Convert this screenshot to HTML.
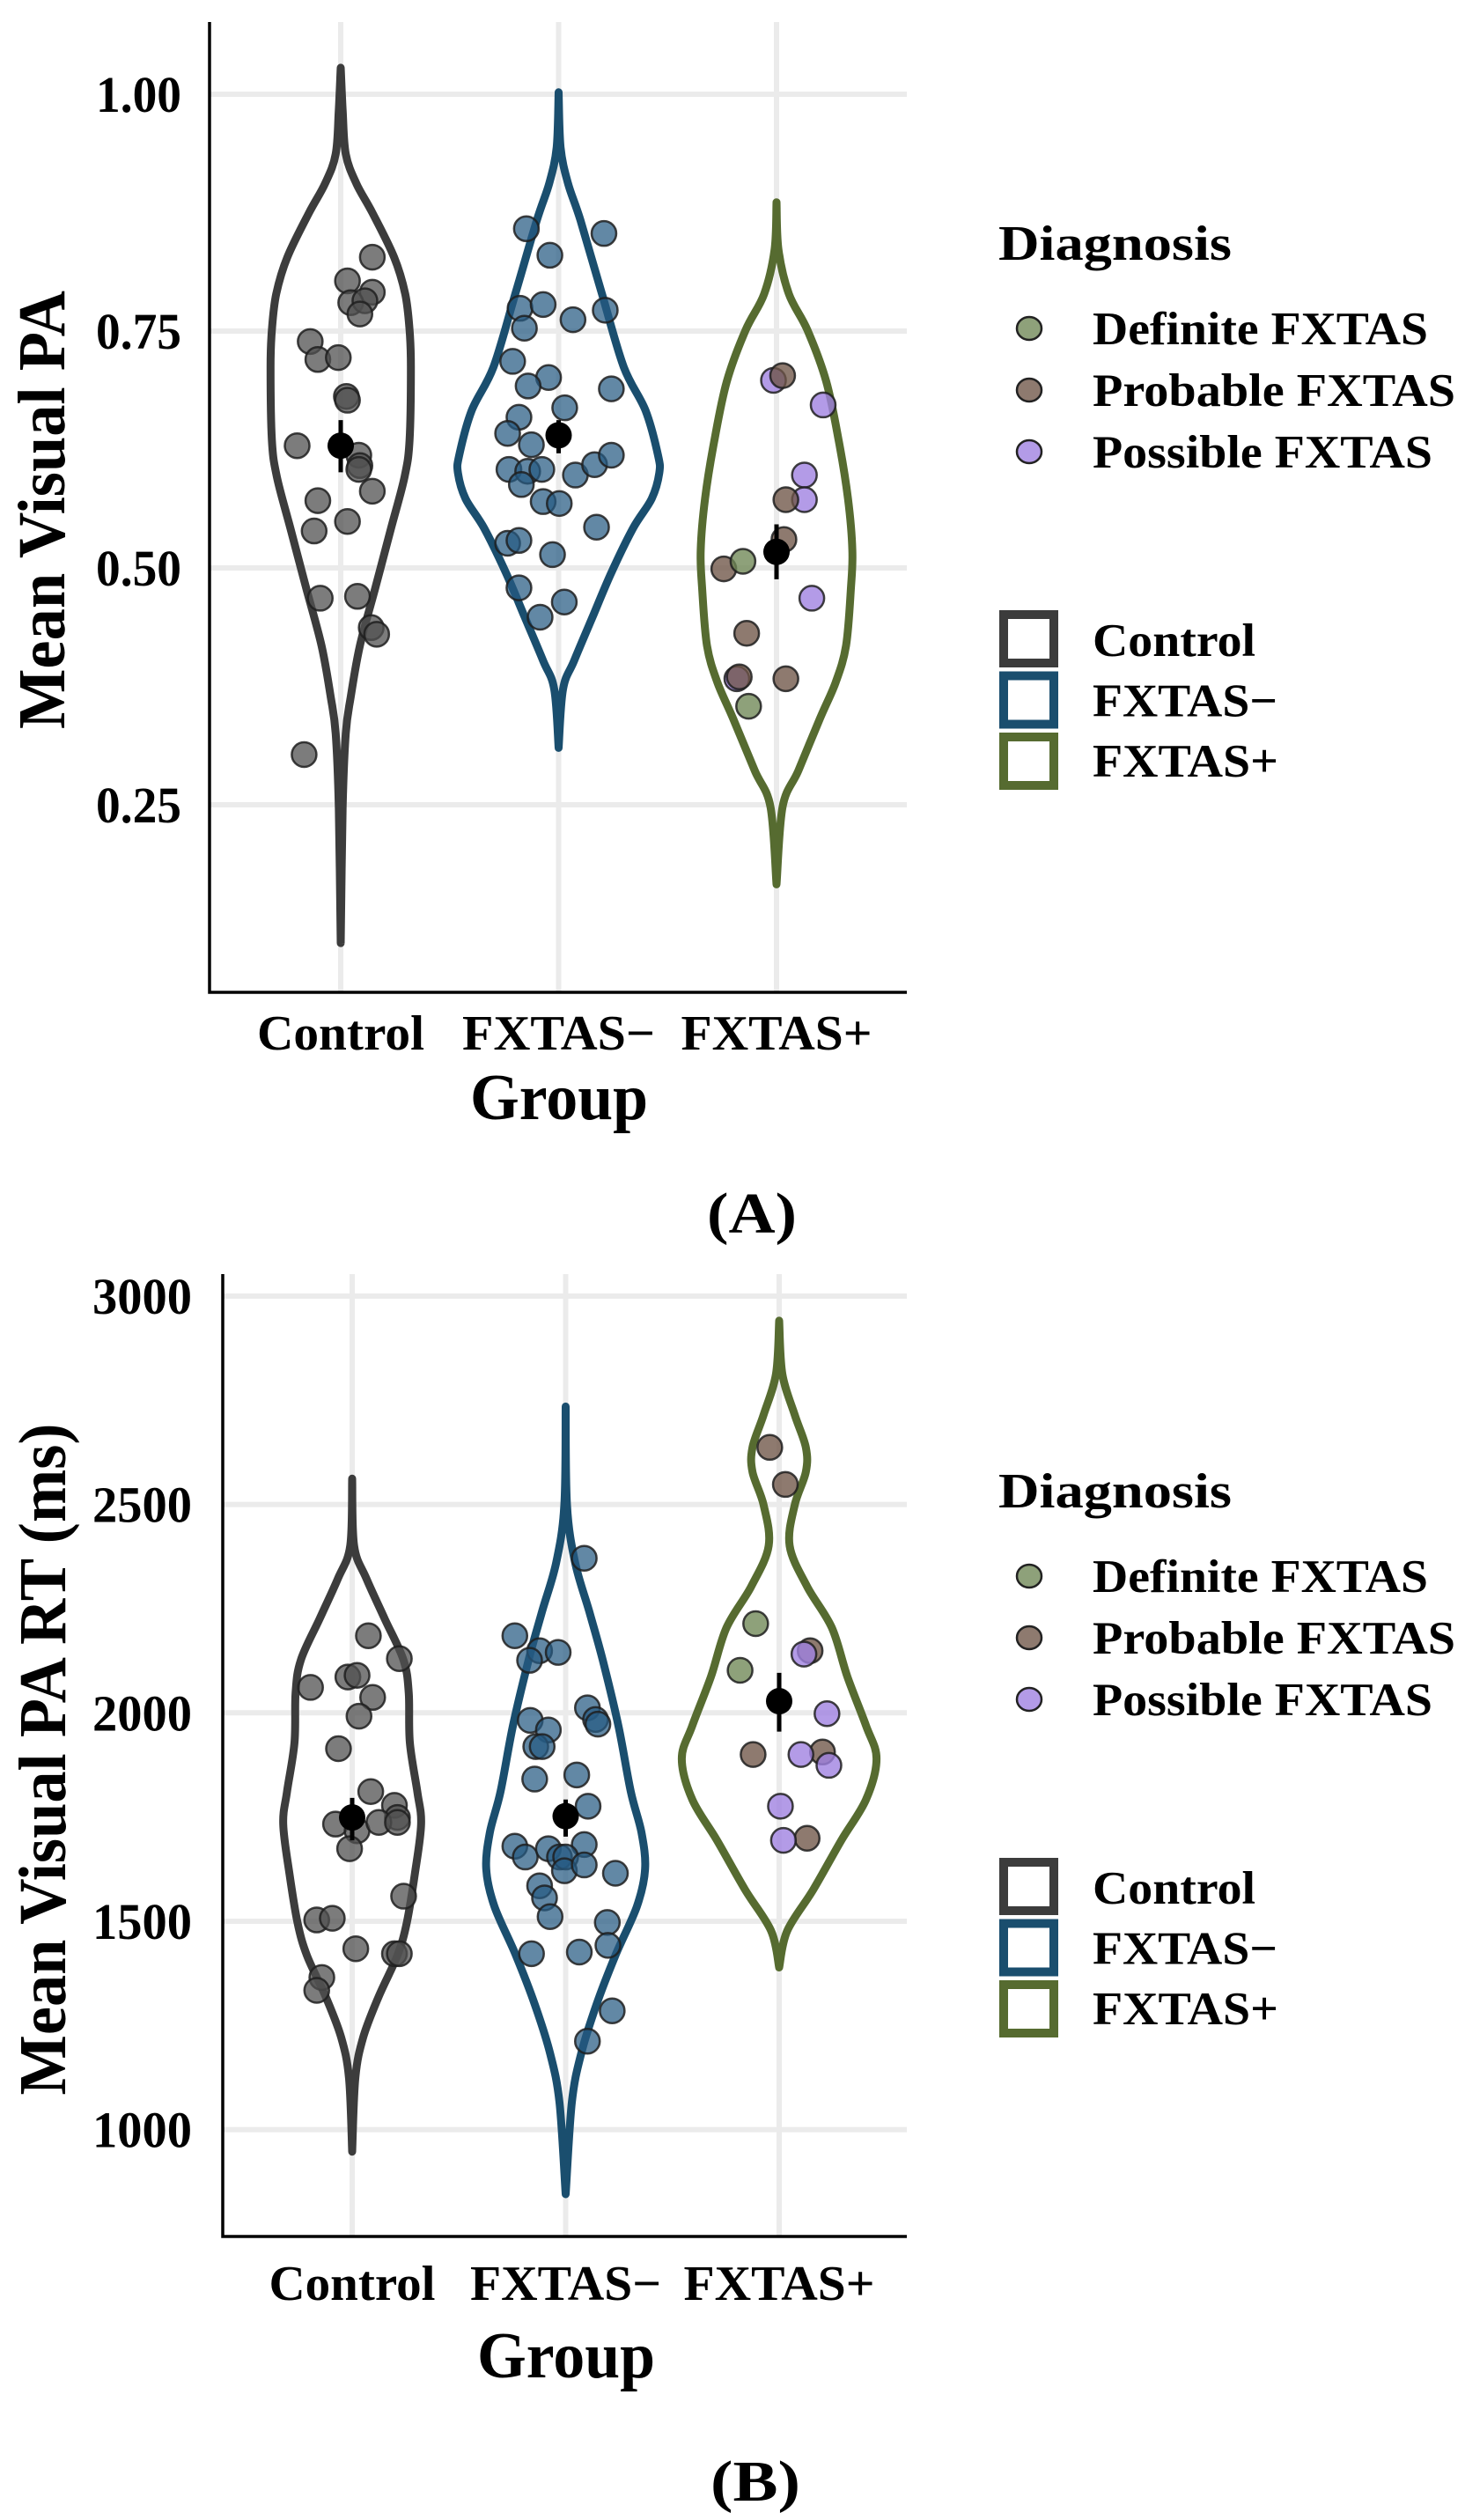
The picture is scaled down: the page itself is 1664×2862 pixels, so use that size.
<!DOCTYPE html>
<html><head><meta charset="utf-8"><title>Violin plots</title>
<style>
html,body{margin:0;padding:0;background:#fff;}
svg text{font-family:"Liberation Serif","DejaVu Serif",serif;font-weight:bold;fill:#000;}
</style></head>
<body>
<svg id="fig" xmlns="http://www.w3.org/2000/svg" width="1664" height="2857" viewBox="0 0 1664 2857">
<rect width="1664" height="2857" fill="#fff"/>
<g id="panelA"></g>
<g id="panelB"></g>
</svg>
<script>
// ---------- shared data ----------
var groups = ["Control", "FXTAS\u2212", "FXTAS+"];
var diagnoses = ["Definite FXTAS", "Probable FXTAS", "Possible FXTAS"];

// ---------- Panel A: Mean Visual PA ----------
var aTicks = [0.25, 0.50, 0.75, 1.00];
var aTickLabels = ["0.25", "0.50", "0.75", "1.00"];
var aCtrlVals = [0.828,0.803,0.791,0.780,0.782,0.768,0.739,0.720,0.722,0.681,0.677,0.629,0.619,0.608,0.604,0.581,0.571,0.539,0.549,0.468,0.470,0.437,0.430,0.303];
var aCtrlJit  = [0.145,0.031,0.145,0.046,0.111,0.088,-0.14,-0.105,-0.011,0.026,0.031,-0.2,0.083,0.088,0.083,0.145,-0.105,-0.122,0.031,-0.094,0.077,0.14,0.165,-0.168];
var aNegVals = [0.858,0.853,0.830,0.774,0.778,0.753,0.762,0.772,0.718,0.701,0.692,0.689,0.669,0.659,0.642,0.630,0.604,0.602,0.604,0.588,0.598,0.609,0.619,0.570,0.568,0.543,0.526,0.529,0.514,0.479,0.464,0.448];
var aNegJit  = [-0.148,0.208,-0.04,-0.177,-0.071,-0.157,0.066,0.214,-0.211,-0.046,-0.14,0.242,0.028,-0.182,-0.234,-0.125,-0.228,-0.142,-0.077,-0.171,0.077,0.165,0.242,-0.071,0.003,0.174,-0.234,-0.182,-0.028,-0.182,0.026,-0.085];
var aPosVals = [0.698,0.672,0.598,0.572,0.468,0.383, 0.703,0.572,0.530,0.499,0.431,0.383,0.385, 0.507,0.354];
var aPosJit  = [-0.014,0.214,0.128,0.128,0.162,-0.182, 0.028,0.043,0.034,-0.242,-0.137,0.043,-0.171, -0.154,-0.128];
var aPosDiag = [2,2,2,2,2,2, 1,1,1,1,1,1,1, 0,0];
var aMeans = [0.629, 0.640, 0.517];
var aLo = [0.601, 0.621, 0.488];
var aHi = [0.656, 0.656, 0.546];
var aViolinCtrlY = [1.028,0.983,0.937,0.906,0.875,0.828,0.789,0.751,0.712,0.635,0.596,0.542,0.480,0.418,0.364,0.325,0.248,0.104];
var aViolinCtrlW = [0,0.009,0.023,0.071,0.145,0.245,0.296,0.316,0.322,0.316,0.293,0.231,0.160,0.088,0.046,0.023,0.009,0];
var aViolinNegY = [1.002,0.944,0.906,0.867,0.789,0.712,0.666,0.619,0.600,0.573,0.542,0.495,0.449,0.402,0.372,0.310];
var aViolinNegW = [0,0.009,0.043,0.1,0.199,0.299,0.399,0.456,0.462,0.427,0.342,0.242,0.157,0.071,0.02,0];
var aViolinPosY = [0.886,0.836,0.789,0.751,0.697,0.635,0.573,0.519,0.480,0.418,0.379,0.341,0.286,0.248,0.166];
var aViolinPosW = [0,0.009,0.057,0.142,0.228,0.285,0.328,0.348,0.342,0.319,0.271,0.199,0.1,0.028,0];

// ---------- Panel B: Mean Visual PA RT ----------
var bTicks = [1000, 1500, 2000, 2500, 3000];
var bTickLabels = ["1000", "1500", "2000", "2500", "3000"];
var bCtrlVals = [2185,2130,2061,2086,2090,2037,1992,1914,1811,1778,1749,1733,1717,1737,1737,1674,1560,1503,1507,1434,1422,1422,1365,1334];
var bCtrlJit  = [0.076,0.221,-0.195,-0.02,0.023,0.096,0.032,-0.064,0.087,0.198,0.212,-0.078,0.023,0.125,0.212,-0.012,0.241,-0.166,-0.093,0.017,0.198,0.221,-0.142,-0.166];
var bNegVals = [2371,2185,2149,2145,2126,2012,1984,1973,1982,1959,1919,1919,1841,1851,1776,1680,1654,1674,1684,1654,1654,1621,1635,1615,1585,1556,1511,1497,1442,1422,1426,1285,1212];
var bNegJit  = [0.087,-0.238,-0.122,-0.035,-0.169,0.102,0.14,0.151,-0.166,-0.081,-0.14,-0.11,-0.145,0.052,0.105,-0.238,-0.189,-0.081,0.087,-0.029,0,-0.006,0.087,0.233,-0.122,-0.099,-0.073,0.195,0.198,-0.16,0.064,0.218,0.102];
var bPosVals = [2637,2548,2149,1900,1906,1699, 2214,2102, 2141,1998,1900,1874,1776,1694];
var bPosJit  = [-0.044,0.029,0.145,-0.122,0.203,0.131, -0.11,-0.183, 0.116,0.224,0.102,0.233,0.006,0.02];
var bPosDiag = [1,1,1,1,1,1, 0,0, 2,2,2,2,2,2];
var bMeans = [1749, 1752, 2028];
var bLo = [1694, 1703, 1955];
var bHi = [1796, 1792, 2096];
var bViolinCtrlY = [2562,2401,2322,2224,2126,2047,1929,1811,1733,1615,1497,1418,1320,1222,1124,947];
var bViolinCtrlW = [0,0.009,0.067,0.154,0.241,0.265,0.27,0.305,0.323,0.294,0.256,0.212,0.125,0.052,0.015,0];
var bViolinNegY = [2735,2499,2361,2244,2126,1969,1811,1713,1625,1536,1418,1301,1183,1065,845];
var bViolinNegW = [0,0.006,0.044,0.11,0.174,0.247,0.305,0.355,0.372,0.334,0.233,0.145,0.073,0.029,0];
var bViolinPosY = [2941,2813,2715,2637,2578,2499,2401,2303,2204,2086,1969,1890,1792,1694,1576,1477,1389];
var bViolinPosW = [0,0.015,0.073,0.125,0.125,0.073,0.049,0.131,0.247,0.32,0.407,0.456,0.407,0.291,0.16,0.038,0];

// ---------- drawing ----------
var NS = "http://www.w3.org/2000/svg";
var groupStroke = ["#3c3c3c", "#1a4e6e", "#566b30"];
var groupFill = ["rgba(80,80,80,0.75)", "rgba(38,90,130,0.72)"];
var diagFill = ["rgba(110,135,85,0.78)", "rgba(110,85,70,0.78)", "rgba(160,130,225,0.8)"];

function mk(parent, tag, attrs) {
  var el = document.createElementNS(NS, tag);
  for (var k in attrs) el.setAttribute(k, attrs[k]);
  parent.appendChild(el);
  return el;
}
function txt(parent, s, attrs) { var t = mk(parent, "text", attrs); t.textContent = s; return t; }

function smoothPath(pts) {
  var d = "M" + pts[0][0].toFixed(1) + "," + pts[0][1].toFixed(1);
  for (var i = 0; i < pts.length - 1; i++) {
    var p0 = pts[Math.max(0, i - 1)], p1 = pts[i], p2 = pts[i + 1], p3 = pts[Math.min(pts.length - 1, i + 2)];
    var c1x = p1[0] + (p2[0] - p0[0]) / 6, c1y = p1[1] + (p2[1] - p0[1]) / 6;
    var c2x = p2[0] - (p3[0] - p1[0]) / 6, c2y = p2[1] - (p3[1] - p1[1]) / 6;
    d += " C" + c1x.toFixed(1) + "," + c1y.toFixed(1) + " " + c2x.toFixed(1) + "," + c2y.toFixed(1) + " " + p2[0].toFixed(1) + "," + p2[1].toFixed(1);
  }
  return d;
}

function drawPanel(g, cfg) {
  var xs = function (i) { return cfg.x0 + i * cfg.unit; };
  var ys = cfg.ys;
  for (var i = 0; i < cfg.ticks.length; i++) {
    var gl = mk(g, "line", {x1: cfg.axisX, x2: cfg.right, y1: ys(cfg.ticks[i]), y2: ys(cfg.ticks[i]), stroke: "#ebebeb", "stroke-width": 6});
    
    
    var tl = txt(g, cfg.tickLabels[i], {x: cfg.tickX, y: ys(cfg.ticks[i]) + 20, "text-anchor": "end", "font-size": 58, textLength: cfg.tickW, lengthAdjust: "spacingAndGlyphs"});
    
    
  }
  for (var j = 0; j < 3; j++) {
    var vg = mk(g, "line", {x1: xs(j), x2: xs(j), y1: cfg.top, y2: cfg.bottom, stroke: "#ebebeb", "stroke-width": 6});
    
    
  }
  var ax = mk(g, "path", {d: "M" + cfg.axisX + "," + cfg.top + " V" + cfg.bottom + " H" + cfg.right, fill: "none", stroke: "#000", "stroke-width": 3.5});
  
  
  for (var k = 0; k < 3; k++) {
    var vy = cfg.violinY[k], vw = cfg.violinW[k], right = [], left = [];
    for (var m = 0; m < vy.length; m++) right.push([xs(k) + vw[m] * cfg.unit, ys(vy[m])]);
    for (var m2 = vy.length - 1; m2 >= 0; m2--) left.push([xs(k) - vw[m2] * cfg.unit, ys(vy[m2])]);
    var d = smoothPath(right) + " " + smoothPath(left).replace(/^M/, "L") + " Z";
    var vp = mk(g, "path", {d: d, fill: "none", stroke: groupStroke[k], "stroke-width": 9, "stroke-linejoin": "round"});
    
    
  }
  function pts(vals, jit, k, fills, nm) {
    for (var p = 0; p < vals.length; p++) {
      var c = mk(g, "circle", {cx: xs(k) + jit[p] * cfg.unit, cy: ys(vals[p]), r: 14, fill: fills[p], stroke: "rgba(30,30,30,0.85)", "stroke-width": 2.5});
      
      
    }
  }
  pts(cfg.ctrlVals, cfg.ctrlJit, 0, cfg.ctrlVals.map(function () { return groupFill[0]; }), 'point-control');
  pts(cfg.negVals, cfg.negJit, 1, cfg.negVals.map(function () { return groupFill[1]; }), 'point-fxtas-neg');
  pts(cfg.posVals, cfg.posJit, 2, cfg.posDiag.map(function (d) { return diagFill[d]; }), 'point-fxtas-pos');
  for (var q = 0; q < 3; q++) {
    var eb = mk(g, "line", {x1: xs(q), x2: xs(q), y1: ys(cfg.lo[q]), y2: ys(cfg.hi[q]), stroke: "#000", "stroke-width": 5});
    
    
    var mc = mk(g, "circle", {cx: xs(q), cy: ys(cfg.means[q]), r: 15, fill: "#000"});
    
    
  }
  var xw = cfg.xLabelW;
  for (var r = 0; r < 3; r++) {
    var xl = txt(g, groups[r], {x: xs(r), y: cfg.xLabelY, "text-anchor": "middle", "font-size": 56, textLength: xw[r], lengthAdjust: "spacingAndGlyphs"});
    
    
  }
  var gt = txt(g, "Group", {x: cfg.groupX, y: cfg.groupY, "text-anchor": "middle", "font-size": 74, textLength: 202, lengthAdjust: "spacingAndGlyphs"});
  
  
  var yt = txt(g, cfg.yTitle, {x: 0, y: 0, "text-anchor": "middle", "font-size": 76, textLength: cfg.yTitleLen, lengthAdjust: "spacingAndGlyphs", transform: "translate(" + cfg.yTitleX + "," + cfg.yTitleY + ") rotate(-90)"});
  
  
  var pl = txt(g, cfg.panelLabel, {x: cfg.panelX, y: cfg.panelY, "text-anchor": "middle", "font-size": 66, textLength: 102, lengthAdjust: "spacingAndGlyphs"});
  
  
  var L = mk(g, "g", {});
  
  
  var oy = cfg.legendOffset;
  var lt = txt(L, "Diagnosis", {x: 1134, y: 295 + oy, "font-size": 56, textLength: 265, lengthAdjust: "spacingAndGlyphs"});
  
  
  var dw = [381, 412, 386];
  for (var s = 0; s < 3; s++) {
    var ld = mk(L, "ellipse", {cx: 1169, cy: 373 + 70 * s + oy, rx: 14, ry: 13, fill: diagFill[s], stroke: "#222", "stroke-width": 2.5});
    
    
    var lx = txt(L, diagnoses[s], {x: 1241, y: 391 + 70 * s + oy, "font-size": 53, textLength: dw[s], lengthAdjust: "spacingAndGlyphs"});
    
    
  }
  var gw = [185, 210, 211];
  for (var u = 0; u < 3; u++) {
    var sq = mk(L, "rect", {x: 1140, y: 698 + 69.5 * u + oy, width: 57, height: 55, fill: "#fff", stroke: groupStroke[u], "stroke-width": 10});
    
    
    var gl2 = txt(L, groups[u], {x: 1241, y: 745 + 68.5 * u + oy, "font-size": 53, textLength: gw[u], lengthAdjust: "spacingAndGlyphs"});
    
    
  }
}

drawPanel(document.getElementById("panelA"), {
  x0: 387, unit: 247.5, axisX: 238, top: 25, bottom: 1127, right: 1030,
  ys: function (v) { return 107 + (1 - v) * 1076; },
  ticks: aTicks, tickLabels: aTickLabels, tickX: 206, tickW: 97,
  violinY: [aViolinCtrlY, aViolinNegY, aViolinPosY], violinW: [aViolinCtrlW, aViolinNegW, aViolinPosW],
  ctrlVals: aCtrlVals, ctrlJit: aCtrlJit, negVals: aNegVals, negJit: aNegJit, posVals: aPosVals, posJit: aPosJit, posDiag: aPosDiag,
  means: aMeans, lo: aLo, hi: aHi,
  xLabelY: 1192, xLabelW: [190, 219, 217], groupX: 635, groupY: 1271,
  yTitle: "Mean Visual PA", yTitleLen: 498, yTitleX: 73, yTitleY: 579,
  panelLabel: "(A)", panelX: 854, panelY: 1400, legendOffset: 0
});
drawPanel(document.getElementById("panelB"), {
  x0: 400, unit: 242.5, axisX: 253, top: 1447, bottom: 2540, right: 1030,
  ys: function (v) { return 1472 + (3000 - v) * 0.4733; },
  ticks: bTicks, tickLabels: bTickLabels, tickX: 218, tickW: 113,
  violinY: [bViolinCtrlY, bViolinNegY, bViolinPosY], violinW: [bViolinCtrlW, bViolinNegW, bViolinPosW],
  ctrlVals: bCtrlVals, ctrlJit: bCtrlJit, negVals: bNegVals, negJit: bNegJit, posVals: bPosVals, posJit: bPosJit, posDiag: bPosDiag,
  means: bMeans, lo: bLo, hi: bHi,
  xLabelY: 2612, xLabelW: [189, 217, 217], groupX: 643, groupY: 2700,
  yTitle: "Mean Visual PA RT (ms)", yTitleLen: 763, yTitleX: 74, yTitleY: 1998,
  panelLabel: "(B)", panelX: 858, panelY: 2840, legendOffset: 1417
});
</script>
</body></html>
